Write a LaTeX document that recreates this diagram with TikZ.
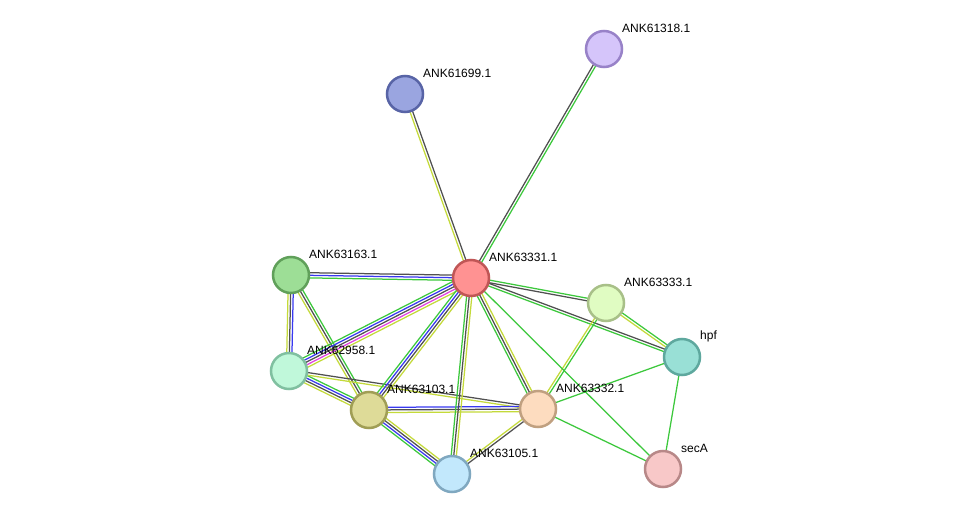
\documentclass[tikz,border=0pt]{standalone}
\usepackage{fontspec}
\newfontfamily\lbf{Liberation Sans}
\usetikzlibrary{calc}
\definecolor{grn}{HTML}{3CC83C}
\definecolor{gry}{HTML}{505050}
\definecolor{yel}{HTML}{C4DA3A}
\definecolor{blu}{HTML}{3838F0}
\definecolor{mag}{HTML}{E040E0}
\tikzset{
  prot/.style={circle,minimum size=36pt,inner sep=0pt,line width=2.5pt},
  lbl/.style={anchor=west,inner sep=0pt,font=\lbf\fontsize{12}{14}\selectfont,text=black},
}
\newcommand\medge[4]{%
  \foreach \c [count=\i] in {#4}{%
    \pgfmathsetmacro\off{(\i-(#3+1)/2)*2.6}%
    \draw[line width=1.25pt,\c] ($(#1)!\off pt!90:(#2)$) -- ($(#2)!\off pt!-90:(#1)$);
  }%
}
\begin{document}
\begin{tikzpicture}[x=1pt,y=-1pt]
\useasboundingbox (0,0) rectangle (975,519);
\fill[white] (0,0) rectangle (975,519);
% node positions
\coordinate (n31) at (471,278);
\coordinate (n99) at (405,94);
\coordinate (n18) at (604,49);
\coordinate (n63) at (291,275);
\coordinate (n58) at (289,371);
\coordinate (n03) at (369,410);
\coordinate (n32) at (538,409);
\coordinate (n05) at (452,474);
\coordinate (n33) at (606,303);
\coordinate (hpf) at (682,357);
\coordinate (secA) at (663,469);
% edges
\medge{n99}{n31}{2}{yel,gry}
\medge{n18}{n31}{2}{gry,grn}
\medge{n63}{n31}{3}{grn,blu,gry}
\medge{n63}{n58}{3}{yel,gry,blu}
\medge{n63}{n03}{3}{yel,gry,grn}
\medge{n58}{n31}{5}{yel,mag,gry,blu,grn}
\medge{n58}{n03}{4}{yel,gry,blu,grn}
\medge{n58}{n32}{2}{yel,gry}
\medge{n03}{n31}{4}{yel,gry,blu,grn}
\medge{n03}{n32}{3}{yel,gry,blu}
\medge{n03}{n05}{4}{grn,blu,gry,yel}
\medge{n05}{n31}{3}{yel,gry,grn}
\medge{n05}{n32}{2}{gry,yel}
\medge{n32}{n31}{3}{yel,gry,grn}
\medge{n33}{n31}{2}{grn,gry}
\medge{hpf}{n31}{2}{gry,grn}
\medge{n33}{hpf}{2}{yel,grn}
\medge{n32}{n33}{2}{grn,yel}
\medge{n32}{hpf}{1}{grn}
\medge{n32}{secA}{1}{grn}
\medge{hpf}{secA}{1}{grn}
\medge{n31}{secA}{1}{grn}
% nodes
\node[prot,fill={rgb,255:red,255;green,146;blue,146},draw={rgb,255:red,192;green,86;blue,86}] (p31) at (n31) {};
\node[prot,fill={rgb,255:red,154;green,165;blue,224},draw={rgb,255:red,88;green,100;blue,166}] (p99) at (n99) {};
\node[prot,fill={rgb,255:red,213;green,197;blue,250},draw={rgb,255:red,152;green,130;blue,200}] (p18) at (n18) {};
\node[prot,fill={rgb,255:red,157;green,222;blue,150},draw={rgb,255:red,96;green,160;blue,90}] (p63) at (n63) {};
\node[prot,fill={rgb,255:red,192;green,248;blue,218},draw={rgb,255:red,128;green,192;blue,160}] (p58) at (n58) {};
\node[prot,fill={rgb,255:red,222;green,219;blue,152},draw={rgb,255:red,160;green,158;blue,85}] (p03) at (n03) {};
\node[prot,fill={rgb,255:red,253;green,220;blue,191},draw={rgb,255:red,192;green,160;blue,128}] (p32) at (n32) {};
\node[prot,fill={rgb,255:red,194;green,232;blue,252},draw={rgb,255:red,128;green,168;blue,192}] (p05) at (n05) {};
\node[prot,fill={rgb,255:red,224;green,252;blue,194},draw={rgb,255:red,168;green,192;blue,136}] (p33) at (n33) {};
\node[prot,fill={rgb,255:red,153;green,224;blue,214},draw={rgb,255:red,94;green,168;blue,158}] (phpf) at (hpf) {};
\node[prot,fill={rgb,255:red,248;green,200;blue,200},draw={rgb,255:red,184;green,136;blue,136}] (psecA) at (secA) {};
% labels
\node[lbl] (l31) at ($(n31)+(18,-21)$) {ANK63331.1};
\node[lbl] (l99) at ($(n99)+(18,-21)$) {ANK61699.1};
\node[lbl] (l18) at ($(n18)+(18,-21)$) {ANK61318.1};
\node[lbl] (l63) at ($(n63)+(18,-21)$) {ANK63163.1};
\node[lbl] (l58) at ($(n58)+(18,-21)$) {ANK62958.1};
\node[lbl] (l03) at ($(n03)+(18,-21)$) {ANK63103.1};
\node[lbl] (l32) at ($(n32)+(18,-21)$) {ANK63332.1};
\node[lbl] (l05) at ($(n05)+(18,-21)$) {ANK63105.1};
\node[lbl] (l33) at ($(n33)+(18,-21)$) {ANK63333.1};
\node[lbl] (lhpf) at ($(hpf)+(18,-21)$) {hpf};
\node[lbl] (lsecA) at ($(secA)+(18,-21)$) {secA};
\end{tikzpicture}
\end{document}
